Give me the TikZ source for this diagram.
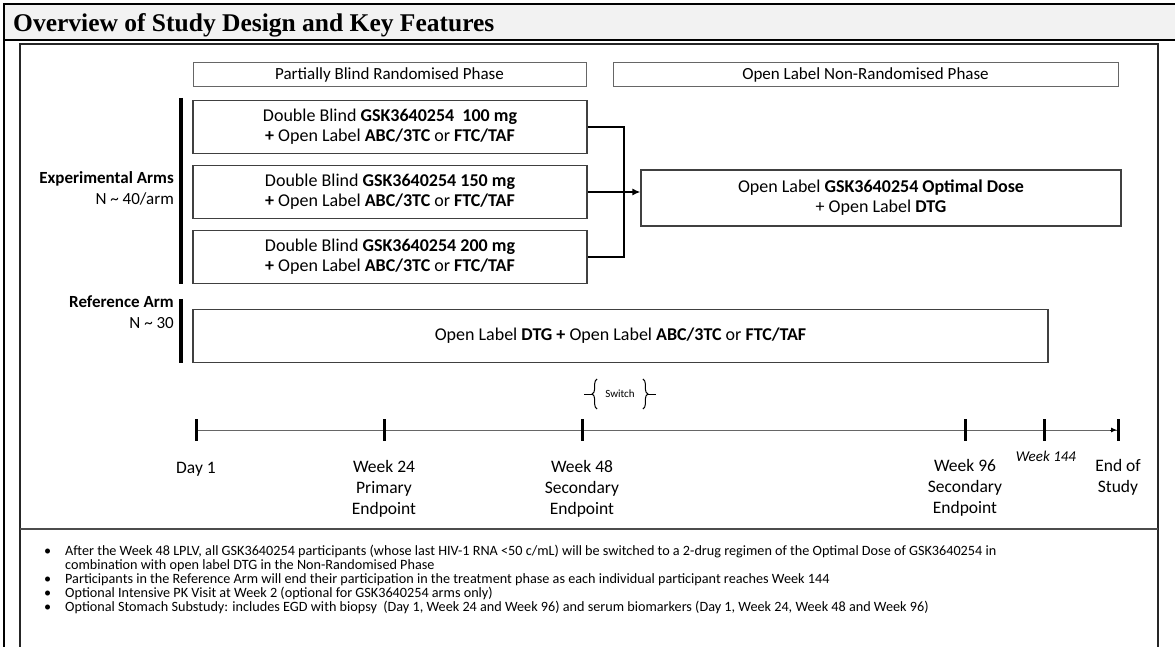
\documentclass[tikz,border=0pt]{standalone}
\usepackage{fontspec}
\setmainfont{Carlito}
\newfontfamily\titlefont{Liberation Serif}
\usepackage{tikz}
\usetikzlibrary{positioning,arrows.meta,calc,decorations.pathreplacing}

\begin{document}
\begin{tikzpicture}[x=1pt,y=-1pt,
                armbox/.style={draw=black!75,line width=1.1pt,minimum width=394pt,minimum height=53pt,align=center,inner sep=0pt,font=\fontsize{18}{20}\selectfont},
                phasebox/.style={draw=black!60,line width=1pt,minimum height=24pt,inner sep=0pt,font=\fontsize{17}{18}\selectfont},
                armlbl/.style={anchor=east,align=right,inner sep=0pt,font=\fontsize{17}{21}\selectfont},
                bar/.style={line width=4pt},
                tickmark/.style={line width=3pt},
                daylbl/.style={anchor=north,align=center,inner sep=0pt,font=\fontsize{17.5}{21}\selectfont}]
                \useasboundingbox (0,0) rectangle (1175,647);
                \fill[black!5] (4,4) rectangle (1175,40);
                \draw[line width=2.5pt] (4,650) -- (4,4) -- (1175,4);
                \draw[line width=2pt] (4,40) -- (1175,40);
                \node[anchor=base west,inner sep=0pt,font=\titlefont\fontsize{25.5}{28}\selectfont\bfseries] (title) at (13,32) {Overview of Study Design and Key Features};
                \draw[line width=2.2pt,black!85] (20,650) -- (20,44) -- (1158,44) -- (1158,650);
                \draw[line width=1.2pt,black!70] (20,529) -- (1158,529);

                \node[phasebox,minimum width=393pt] (randph) at (389.5,75) {Partially Blind Randomised Phase};
                \node[phasebox,minimum width=505pt] (openph) at (865.5,75) {Open Label Non-Randomised Phase};

                \node[armbox] (arm100) at (390,127) {Double Blind \textbf{GSK3640254}\ \ \textbf{100 mg}\\\textbf{+} Open Label \textbf{ABC/3TC} or \textbf{FTC/TAF}};
                \node[armbox] (arm150) at (390,192) {Double Blind \textbf{GSK3640254 150 mg}\\\textbf{+} Open Label \textbf{ABC/3TC} or \textbf{FTC/TAF}};
                \node[armbox] (arm200) at (390,257) {Double Blind \textbf{GSK3640254 200 mg}\\\textbf{+} Open Label \textbf{ABC/3TC} or \textbf{FTC/TAF}};
                \node[armbox,minimum width=480pt,minimum height=56pt] (optdose) at (881,198) {Open Label \textbf{GSK3640254 Optimal Dose}\\+ Open Label \textbf{DTG}};
                \node[armbox,minimum width=855pt] (refarm) at (620.5,336) {Open Label \textbf{DTG +} Open Label \textbf{ABC/3TC} or \textbf{FTC/TAF}};

                \node[armlbl] (explbl) at (174,188) {\textbf{Experimental Arms}\\N \textasciitilde{} 40/arm};
                \node[armlbl] (reflbl) at (174,312) {\textbf{Reference Arm}\\N \textasciitilde{} 30};
                \draw[bar] ([xshift=-11pt,yshift=2pt]arm100.north west) -- ([xshift=-11pt]arm200.south west);
                \draw[bar] ([xshift=-11pt,yshift=10pt]refarm.north west) -- ([xshift=-11pt]refarm.south west);

                \coordinate (jn) at (624,192);
                \draw[line width=2pt] (arm100.east) -| (jn) |- (arm200.east);
                \draw[line width=2.5pt,-{Latex[length=8pt,width=7pt]}] (arm150.east) -- (arm150.east -| optdose.west);

                \node[inner sep=0pt,font=\fontsize{11}{13}\selectfont] (switchlbl) at (620,394) {Switch};
                \draw[line width=1pt,decorate,decoration={brace,amplitude=5pt}] ($(switchlbl.west)+(-8,15)$) -- ($(switchlbl.west)+(-8,-15)$);
                \draw[line width=1pt,decorate,decoration={brace,amplitude=5pt}] ($(switchlbl.east)+(8,-15)$) -- ($(switchlbl.east)+(8,15)$);
                \draw[line width=1pt] ($(switchlbl.west)+(-13,0)$) -- ++(-8,0);
                \draw[line width=1pt] ($(switchlbl.east)+(13,0)$) -- ++(8,0);

                \coordinate (d1) at (196,430);
                \coordinate (w24) at (384,430);
                \coordinate (w48) at (582,430);
                \coordinate (w96) at (965,430);
                \coordinate (w144) at (1044,430);
                \coordinate (eos) at (1118,430);
                \draw[line width=1pt,black!60] (d1) -- (eos);
                \draw[-{Latex[length=6pt,width=5pt]},line width=1pt] ([xshift=-8pt]eos) -- ([xshift=-1pt]eos);
                \foreach \t in {d1,w24,w48,w96,w144,eos}
                \draw[tickmark] ([yshift=11pt]\t) -- ([yshift=-11pt]\t);

                \node[daylbl] (d1lbl) at (196,462) {Day 1};
                \node[daylbl] (w24lbl) at (384,460) {Week 24\\Primary\\Endpoint};
                \node[daylbl] (w48lbl) at (582,460) {Week 48\\Secondary\\Endpoint};
                \node[daylbl] (w96lbl) at (965,459) {Week 96\\Secondary\\Endpoint};
                \node[daylbl,font=\fontsize{15}{18}\selectfont\itshape] (w144lbl) at (1046,451) {Week 144};
                \node[daylbl] (eoslbl) at (1118,459) {End of\\Study};

                \node[anchor=north west,align=left,inner sep=0pt,font=\fontsize{14.2}{14}\selectfont] (notes) at (44,545) {\makebox[21pt][l]{\textbullet}After the Week 48 LPLV, all GSK3640254 participants (whose last HIV-1 RNA <50 c/mL) will be switched to a 2-drug regimen of the Optimal Dose of GSK3640254 in\\
                \hspace*{21pt}combination with open label DTG in the Non-Randomised Phase\\
                \makebox[21pt][l]{\textbullet}Participants in the Reference Arm will end their participation in the treatment phase as each individual participant reaches Week 144\\
                \makebox[21pt][l]{\textbullet}Optional Intensive PK Visit at Week 2 (optional for GSK3640254 arms only)\\
                \makebox[21pt][l]{\textbullet}Optional Stomach Substudy: includes EGD with biopsy\ \ (Day 1, Week 24 and Week 96) and serum biomarkers (Day 1, Week 24, Week 48 and Week 96)};
\end{tikzpicture}
\end{document}
